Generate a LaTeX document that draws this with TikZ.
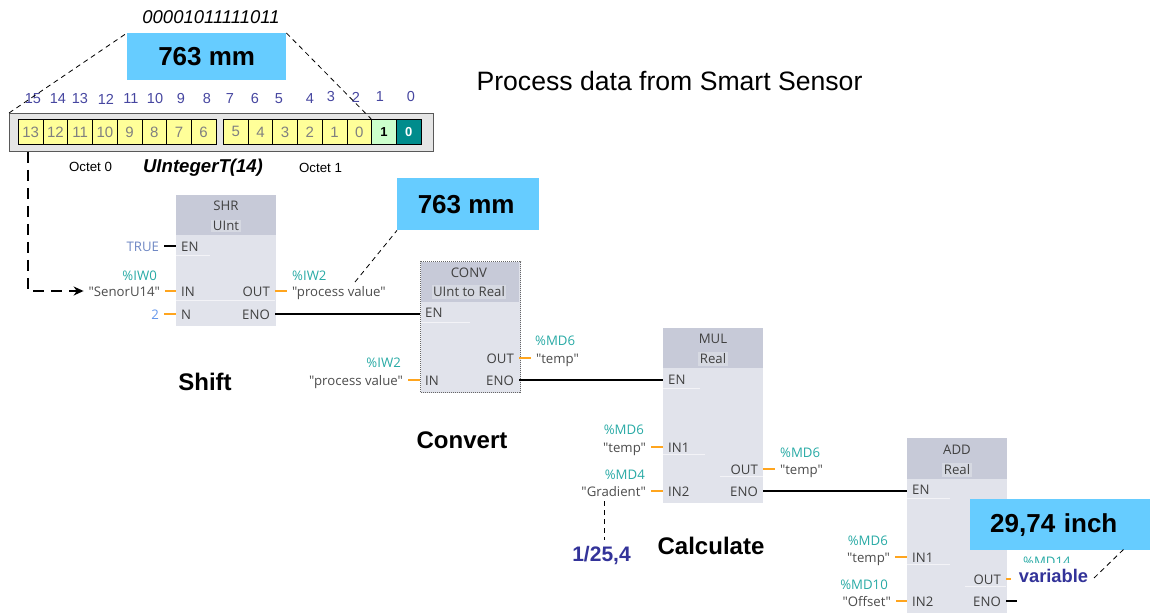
\documentclass[tikz,border=0pt]{standalone}
\usepackage{fontspec}
\setmainfont{Liberation Sans}
\newfontfamily\blockfont{Open Sans}
\usetikzlibrary{arrows.meta}

\definecolor{calloutblue}{RGB}{102,204,255}
\definecolor{bodygray}{RGB}{225,227,235}
\definecolor{headgray}{RGB}{199,202,216}
\definecolor{typegray}{RGB}{214,217,226}
\definecolor{pinteal}{RGB}{40,170,165}
\definecolor{pinorange}{RGB}{255,165,30}
\definecolor{bitblue}{RGB}{70,70,160}
\definecolor{navylabel}{RGB}{51,51,153}
\definecolor{cellyellow}{RGB}{255,255,153}
\definecolor{cellgreen}{RGB}{204,255,204}
\definecolor{cellteal}{RGB}{0,140,140}
\definecolor{truecolor}{RGB}{110,135,195}
\definecolor{countcolor}{RGB}{100,150,235}

\tikzset{
  callout/.style={fill=calloutblue, font=\bfseries\fontsize{26}{28}\selectfont, text=black, anchor=north west, inner sep=0pt},
  steplabel/.style={font=\bfseries\fontsize{24}{26}\selectfont},
  blockbody/.style={fill=bodygray, anchor=north west, minimum width=100pt, inner sep=0pt},
  blockhead/.style={fill=headgray, anchor=north west, minimum width=100pt, inner sep=0pt},
  blockname/.style={font=\blockfont\fontsize{13.2}{15}\selectfont, text=black!75, yshift=-1pt},
  typename/.style={blockname, fill=typegray, inner sep=1.5pt},
  pin/.style={font=\blockfont\fontsize{13.2}{15}\selectfont, text=black!75, text height=11pt, text depth=1pt, inner xsep=5pt, inner ysep=0pt},
  inpin/.style={pin, anchor=west},
  outpin/.style={pin, anchor=east},
  varname/.style={font=\blockfont\fontsize{13.2}{15}\selectfont, text=black!70, text height=11pt, text depth=1pt, inner ysep=0pt, inner xsep=0pt, outer xsep=5pt},
  varleft/.style={varname, anchor=east},
  varright/.style={varname, anchor=west},
  addrleft/.style={font=\blockfont\fontsize{13.2}{15}\selectfont, text=pinteal, anchor=east, inner sep=0pt, yshift=-1pt},
  addrright/.style={font=\blockfont\fontsize{13.2}{15}\selectfont, text=pinteal, anchor=west, inner sep=0pt, yshift=-1pt},
  stub/.style={pinorange, line width=2pt},
  powerflow/.style={black, line width=2pt},
  leader/.style={black, dash pattern=on 5pt off 4pt, line width=0.8pt},
  rowline/.style={white, opacity=0.6, line width=1pt},
  bitcell/.style={draw=black, line width=0.8pt, minimum width=24.7pt, minimum height=25pt, inner sep=0pt, anchor=north west, font=\fontsize{15}{16}\selectfont, text=black!50},
  bitnum/.style={font=\fontsize{14.5}{16}\selectfont, text=bitblue, inner sep=0pt}
}

\begin{document}
\begin{tikzpicture}[x=1pt, y=-1pt]
  \useasboundingbox (0,0) rectangle (1150,613);

  % Heading and decoded value
  \node[font=\fontsize{26.6}{28}\selectfont] (title) at (669.5,81) {Process data from Smart Sensor};
  \node[font=\itshape\fontsize{18.5}{20}\selectfont] (rawbits) at (211,17) {00001011111011};
  \node[callout, minimum width=159pt, minimum height=47pt] (valuetop) at (127,33) {\raisebox{-3pt}{763 mm}};

  % Register with the bits
  \node[fill=black!10, draw=black!65, line width=0.8pt, minimum width=424pt, minimum height=38pt, anchor=north west, inner sep=0pt] (register) at (9,113) {};
  \foreach \x/\n/\lab in {18/15/13, 42.7/14/12, 67.4/13/11, 92.1/12/10, 116.8/11/9, 141.5/10/8, 166.2/9/7, 190.9/8/6,
                          223/7/5, 247.7/6/4, 272.4/5/3, 297.1/4/2, 321.8/3/1, 346.5/2/0}
    \node[bitcell, fill=cellyellow] (cell\n) at (\x,119) {\lab};
  \node[bitcell, fill=cellgreen, text=black, font=\bfseries\fontsize{13}{14}\selectfont] (cell1) at (371.2,119) {1};
  \node[bitcell, fill=cellteal, text=white, font=\bfseries\fontsize{13}{14}\selectfont] (cell0) at (395.9,119) {\raisebox{-3pt}{0}};

  % Bit numbers above the register
  \foreach \x/\y/\n in {33/99/15, 58/99/14, 80/99/13, 106/99/12, 131/99/11, 155/99/10, 181/99/9, 207/99/8,
                        230/99/7, 255/99/6, 279/99/5, 310/99/4, 331/97/3, 356/97/2, 380/97/1, 411/97/0}
    \node[bitnum] (bitnum\n) at (\x,\y) {\n};

  \node[font=\fontsize{13.3}{15}\selectfont] (octetzero) at (90.5,167) {Octet 0};
  \node[font=\fontsize{13.3}{15}\selectfont] (octetone) at (320.5,168) {Octet 1};
  \node[font=\bfseries\itshape\fontsize{18.6}{20}\selectfont] (typelabel) at (203,168) {UIntegerT(14)};

  \draw[leader] (register.north west) -- (valuetop.north west);
  \draw[leader] (valuetop.north east) -- (cell1.north west);

  % SHR block
  \node[blockbody, minimum height=131pt] (shr) at (176,195) {};
  \node[blockhead, minimum height=40pt] (shrhead) at (shr.north west) {};
  \node[blockname] (shrname) at (226,205) {SHR};
  \node[typename] (shrtype) at (226,225) {UInt};
  \node[inpin] (shren) at (176,246) {EN};
  \node[inpin] (shrin) at (176,291) {IN};
  \node[inpin] (shrn) at (176,314) {N};
  \node[outpin] (shrout) at (275,291) {OUT};
  \node[outpin] (shreno) at (275,314) {ENO};
  \node[varleft, text=truecolor] (shrtrue) at (164,246) {TRUE};
  \node[varleft] (shrvar) at (165,291) {"SenorU14"};
  \node[varleft, text=countcolor] (shrcount) at (164,314) {2};
  \node[varright] (shrresult) at (287,291) {"process value"};
  \node[addrleft] (shraddr) at (157,275) {\%IW0};
  \node[addrright] (shrresultaddr) at (292,275) {\%IW2};
  \draw[black, line width=1.6pt] (shrtrue) -- (shren);
  \draw[stub] (shrvar) -- (shrin);
  \draw[stub] (shrcount.east) -- (shrn.west);
  \draw[stub] (shrout) -- (shrresult);
  \draw[rowline] (176,255) -- (210,255);
  \draw[rowline] (176,300) -- (275,300);

  % CONV block
  \node[blockbody, minimum height=131pt, draw=black!60, densely dotted, line width=1pt] (conv) at (420,261) {};
  \node[blockhead, minimum height=40pt, minimum width=98pt] (convhead) at (421,262) {};
  \node[blockname] (convname) at (469,272) {CONV};
  \node[typename] (convtype) at (469,291) {UInt to Real};
  \node[inpin] (conven) at (420,312) {EN};
  \node[inpin] (convin) at (420,380) {IN};
  \node[outpin] (convout) at (519,358) {OUT};
  \node[outpin] (conveno) at (519,380) {ENO};
  \node[varleft] (convvar) at (408,380) {"process value"};
  \node[varright] (convresult) at (531,358) {"temp"};
  \node[addrleft] (convaddr) at (401,362) {\%IW2};
  \node[addrright] (convresultaddr) at (535,340) {\%MD6};
  \draw[stub] (convvar) -- (convin);
  \draw[stub] (convout) -- (convresult);
  \draw[rowline] (421,322) -- (470,322);

  % MUL block
  \node[blockbody, minimum height=175pt] (mul) at (663,328) {};
  \node[blockhead, minimum height=40pt] (mulhead) at (mul.north west) {};
  \node[blockname] (mulname) at (713,338) {MUL};
  \node[typename] (multype) at (713,358) {Real};
  \node[inpin] (mulen) at (663,379) {EN};
  \node[inpin] (mulina) at (663,447) {IN1};
  \node[inpin] (mulinb) at (663,491) {IN2};
  \node[outpin] (mulout) at (763,469) {OUT};
  \node[outpin] (muleno) at (763,491) {ENO};
  \node[varleft] (mulvara) at (651,447) {"temp"};
  \node[varleft] (mulvarb) at (651,491) {"Gradient"};
  \node[varright] (mulresult) at (775,469) {"temp"};
  \node[addrleft] (muladdra) at (644,429) {\%MD6};
  \node[addrleft] (muladdrb) at (645,474) {\%MD4};
  \node[addrright] (mulresultaddr) at (780,452) {\%MD6};
  \draw[stub] (mulvara) -- (mulina);
  \draw[stub] (mulvarb) -- (mulinb);
  \draw[stub] (mulout) -- (mulresult);
  \draw[rowline] (663,388) -- (700,388);
  \draw[rowline] (663,454) -- (705,454);
  \draw[rowline] (720,476) -- (763,476);

  % ADD block
  \node[blockbody, minimum height=175pt] (add) at (907,438) {};
  \node[blockhead, minimum height=41pt] (addhead) at (add.north west) {};
  \node[blockname] (addname) at (957,449) {ADD};
  \node[typename] (addtype) at (957,469) {Real};
  \node[inpin] (adden) at (907,489) {EN};
  \node[inpin] (addina) at (907,557) {IN1};
  \node[inpin] (addinb) at (907,601) {IN2};
  \node[outpin] (addout) at (1006,579) {OUT};
  \node[outpin] (addeno) at (1006,601) {ENO};
  \node[varleft] (addvara) at (895,557) {"temp"};
  \node[varleft] (addvarb) at (896,601) {"Offset"};
  \node[addrleft] (addaddra) at (888,540) {\%MD6};
  \node[addrleft] (addaddrb) at (888,584) {\%MD10};
  \node[addrright] (addresultaddr) at (1023,561) {\%MD14};
  \coordinate (addenoend) at (1017,601);
  \coordinate (addoutend) at (1011,579);
  \draw[stub] (addvara) -- (addina);
  \draw[stub] (addvarb) -- (addinb);
  \draw[black, line width=1.6pt] (addeno) -- (addenoend);
  \draw[rowline] (907,498) -- (950,498);
  \draw[rowline] (907,564) -- (950,564);
  \draw[rowline] (965,586) -- (1006,586);

  % Power flow between the blocks
  \draw[powerflow] (shreno.east) -- (shreno.east -| conven.west);
  \draw[powerflow] (conveno.east) -- (conveno.east -| mulen.west);
  \draw[powerflow] (muleno.east) -- (muleno.east -| adden.west);

  % Callouts and notes
  \node[callout, minimum width=142pt, minimum height=52pt] (valuemid) at (397,178) {\hspace*{-4pt}763 mm};
  \node[callout, minimum width=180pt, minimum height=51pt, text width=140pt, align=left] (valueend) at (970,499) {\raisebox{-3pt}{29,74 inch}};
  \node[fill=white, font=\bfseries\fontsize{18.3}{20}\selectfont, text=navylabel, inner sep=0pt, minimum height=26pt, minimum width=72pt] (variablelabel) at (1053.5,576) {variable};
  \node[font=\bfseries\fontsize{21}{23}\selectfont, text=navylabel] (factor) at (601.5,556) {1/25,4};
  \node[steplabel] (shiftlabel) at (205,382) {Shift};
  \node[steplabel] (convertlabel) at (462,440) {Convert};
  \node[steplabel] (calclabel) at (711,546) {Calculate};

  \draw[stub] (addout.east) -- (addoutend);

  \coordinate (shrresulttop) at (355,282);
  \coordinate (gradientdrop) at (604,501);
  \coordinate (factortop) at (604,540);
  \coordinate (variableend) at (1094,578);
  \coordinate (valueendfoot) at (1124,549);
  \draw[leader] (shrresulttop) -- (valuemid.south west);
  \draw[leader] (gradientdrop) -- (factortop);
  \draw[leader] (variableend) -- (valueendfoot);

  % Signal from the register to the SHR input
  \draw[black, line width=2.2pt, dash pattern=on 11pt off 7pt, -{Stealth[length=10pt,width=9pt]}] ([xshift=-2.5pt]cell15.south |- register.south) |- (shrvar.west);
\end{tikzpicture}
\end{document}
